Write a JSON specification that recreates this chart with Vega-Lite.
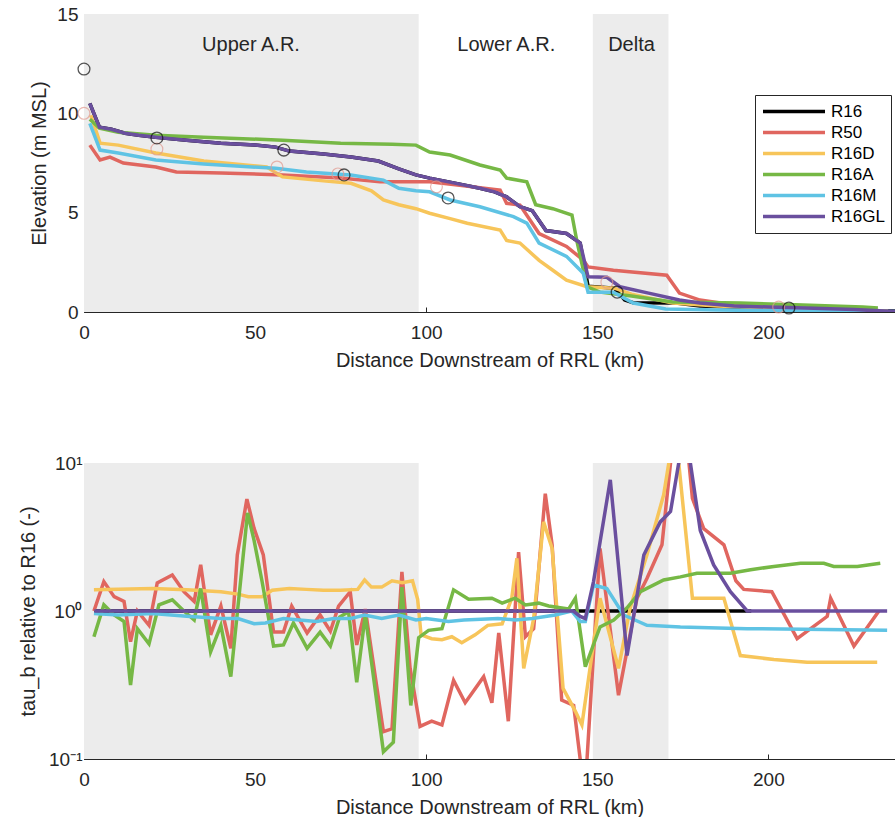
{
  "$schema": "https://vega.github.io/schema/vega-lite/v6.json",
  "background": "white",
  "padding": {"left": 18, "top": 5, "right": 0, "bottom": 0},
  "config": {
    "view": {"stroke": null},
    "font": "Liberation Sans",
    "axis": {
      "labelFont": "Liberation Sans", "labelFontSize": 19, "labelColor": "#262626",
      "titleFont": "Liberation Sans", "titleFontSize": 20, "titleFontWeight": "normal", "titleColor": "#262626",
      "domainColor": "#262626", "tickColor": "#262626", "grid": false,
      "labelFlush": false, "labelOverlap": false, "tickSize": -5
    }
  },
  "datasets": {
    "regions": [{"x1": 0, "x2": 97.8}, {"x1": 148.7, "x2": 170.8}],
    "labels": [
      {"t": "Upper A.R.", "km": 48.8, "v": 13.44},
      {"t": "Lower A.R.", "km": 123.4, "v": 13.44},
      {"t": "Delta", "km": 160, "v": 13.44}
    ],
    "obs": [
      {"k": "b", "km": 0, "v": 10.0}, {"k": "b", "km": 21.3, "v": 8.2}, {"k": "b", "km": 56.4, "v": 7.3},
      {"k": "b", "km": 74.2, "v": 6.95}, {"k": "b", "km": 103, "v": 6.3}, {"k": "b", "km": 152.8, "v": 1.5},
      {"k": "b", "km": 203, "v": 0.25},
      {"k": "a", "km": 0, "v": 12.23}, {"k": "a", "km": 21.3, "v": 8.76}, {"k": "a", "km": 58.4, "v": 8.15},
      {"k": "a", "km": 76, "v": 6.9}, {"k": "a", "km": 106.4, "v": 5.74}, {"k": "a", "km": 155.8, "v": 1.0},
      {"k": "a", "km": 206, "v": 0.2}
    ],
    "elev": [
      {"s":"R16","km":1.7,"v":10.5},{"s":"R16","km":4.5,"v":9.3},{"s":"R16","km":8,"v":9.2},{"s":"R16","km":12,"v":9.0},{"s":"R16","km":16,"v":8.9},{"s":"R16","km":21,"v":8.8},{"s":"R16","km":30,"v":8.65},{"s":"R16","km":40,"v":8.5},{"s":"R16","km":50,"v":8.4},{"s":"R16","km":56,"v":8.3},{"s":"R16","km":60,"v":8.1},{"s":"R16","km":70,"v":7.95},{"s":"R16","km":78,"v":7.8},{"s":"R16","km":86,"v":7.6},{"s":"R16","km":92,"v":7.2},{"s":"R16","km":97,"v":6.9},{"s":"R16","km":101,"v":6.74},{"s":"R16","km":108,"v":6.5},{"s":"R16","km":115.7,"v":6.23},{"s":"R16","km":120,"v":6.05},{"s":"R16","km":123.5,"v":5.8},{"s":"R16","km":127.4,"v":5.3},{"s":"R16","km":131,"v":5.1},{"s":"R16","km":135,"v":4.1},{"s":"R16","km":141,"v":3.95},{"s":"R16","km":145,"v":3.47},{"s":"R16","km":147.3,"v":1.3},{"s":"R16","km":155,"v":1.2},{"s":"R16","km":158,"v":0.6},{"s":"R16","km":160.5,"v":0.47},{"s":"R16","km":173,"v":0.45},{"s":"R16","km":180,"v":0.3},{"s":"R16","km":200,"v":0.2},{"s":"R16","km":220,"v":0.1},{"s":"R16","km":237,"v":0.05},

      {"s":"R50","km":1.7,"v":8.4},{"s":"R50","km":4.7,"v":7.65},{"s":"R50","km":7.6,"v":7.8},{"s":"R50","km":11.5,"v":7.5},{"s":"R50","km":21,"v":7.3},{"s":"R50","km":27,"v":7.05},{"s":"R50","km":40,"v":7.0},{"s":"R50","km":58,"v":6.9},{"s":"R50","km":75,"v":6.75},{"s":"R50","km":86.5,"v":6.55},{"s":"R50","km":101,"v":6.55},{"s":"R50","km":121.6,"v":6.14},{"s":"R50","km":123.5,"v":5.47},{"s":"R50","km":127.4,"v":5.38},{"s":"R50","km":133,"v":3.95},{"s":"R50","km":141,"v":3.3},{"s":"R50","km":146,"v":2.6},{"s":"R50","km":147.3,"v":2.27},{"s":"R50","km":154.7,"v":2.1},{"s":"R50","km":170.3,"v":1.85},{"s":"R50","km":174,"v":0.95},{"s":"R50","km":180,"v":0.6},{"s":"R50","km":190,"v":0.35},{"s":"R50","km":200,"v":0.25},{"s":"R50","km":215,"v":0.15},{"s":"R50","km":230,"v":0.1},

      {"s":"R16D","km":2,"v":9.9},{"s":"R16D","km":4.7,"v":8.5},{"s":"R16D","km":10,"v":8.4},{"s":"R16D","km":21,"v":8.0},{"s":"R16D","km":35,"v":7.6},{"s":"R16D","km":53.4,"v":7.3},{"s":"R16D","km":58,"v":6.8},{"s":"R16D","km":70,"v":6.6},{"s":"R16D","km":78,"v":6.48},{"s":"R16D","km":84,"v":6.1},{"s":"R16D","km":87.5,"v":5.64},{"s":"R16D","km":92,"v":5.4},{"s":"R16D","km":97,"v":5.2},{"s":"R16D","km":101,"v":4.97},{"s":"R16D","km":107,"v":4.7},{"s":"R16D","km":112,"v":4.47},{"s":"R16D","km":121.6,"v":4.13},{"s":"R16D","km":123.5,"v":3.6},{"s":"R16D","km":127.4,"v":3.47},{"s":"R16D","km":133,"v":2.6},{"s":"R16D","km":137,"v":2.1},{"s":"R16D","km":141,"v":1.6},{"s":"R16D","km":147,"v":1.27},{"s":"R16D","km":155,"v":1.2},{"s":"R16D","km":160,"v":0.9},{"s":"R16D","km":172,"v":0.45},{"s":"R16D","km":185,"v":0.3},{"s":"R16D","km":200,"v":0.2},{"s":"R16D","km":220,"v":0.1},{"s":"R16D","km":235,"v":0.05},

      {"s":"R16A","km":1.7,"v":9.7},{"s":"R16A","km":4.5,"v":9.25},{"s":"R16A","km":10,"v":9.05},{"s":"R16A","km":21,"v":8.9},{"s":"R16A","km":35,"v":8.8},{"s":"R16A","km":58,"v":8.65},{"s":"R16A","km":75,"v":8.5},{"s":"R16A","km":90,"v":8.45},{"s":"R16A","km":97,"v":8.4},{"s":"R16A","km":101,"v":8.05},{"s":"R16A","km":107,"v":7.9},{"s":"R16A","km":115.7,"v":7.4},{"s":"R16A","km":121.6,"v":7.15},{"s":"R16A","km":123.5,"v":6.74},{"s":"R16A","km":129.4,"v":6.55},{"s":"R16A","km":132,"v":5.4},{"s":"R16A","km":137,"v":5.2},{"s":"R16A","km":142.6,"v":4.88},{"s":"R16A","km":144,"v":3.6},{"s":"R16A","km":147,"v":1.27},{"s":"R16A","km":150.8,"v":1.0},{"s":"R16A","km":160,"v":0.8},{"s":"R16A","km":172,"v":0.5},{"s":"R16A","km":191.7,"v":0.45},{"s":"R16A","km":210,"v":0.35},{"s":"R16A","km":227.6,"v":0.25},{"s":"R16A","km":232,"v":0.2},

      {"s":"R16M","km":1.7,"v":9.5},{"s":"R16M","km":4.7,"v":8.15},{"s":"R16M","km":10,"v":8.0},{"s":"R16M","km":21,"v":7.65},{"s":"R16M","km":35,"v":7.45},{"s":"R16M","km":56,"v":7.23},{"s":"R16M","km":65,"v":7.05},{"s":"R16M","km":78,"v":6.9},{"s":"R16M","km":87.5,"v":6.64},{"s":"R16M","km":92,"v":6.23},{"s":"R16M","km":97,"v":6.1},{"s":"R16M","km":101,"v":6.05},{"s":"R16M","km":107,"v":5.64},{"s":"R16M","km":115.7,"v":5.3},{"s":"R16M","km":125.5,"v":4.8},{"s":"R16M","km":129.4,"v":4.47},{"s":"R16M","km":133,"v":3.47},{"s":"R16M","km":141,"v":2.8},{"s":"R16M","km":145.9,"v":1.95},{"s":"R16M","km":147.3,"v":1.0},{"s":"R16M","km":154.7,"v":1.0},{"s":"R16M","km":160.5,"v":0.45},{"s":"R16M","km":170,"v":0.15},{"s":"R16M","km":185,"v":0.1},{"s":"R16M","km":200,"v":0.07},{"s":"R16M","km":220,"v":0.04},{"s":"R16M","km":237,"v":0.02},

      {"s":"R16GL","km":1.7,"v":10.5},{"s":"R16GL","km":4.5,"v":9.3},{"s":"R16GL","km":8,"v":9.2},{"s":"R16GL","km":12,"v":9.0},{"s":"R16GL","km":16,"v":8.9},{"s":"R16GL","km":21,"v":8.8},{"s":"R16GL","km":30,"v":8.65},{"s":"R16GL","km":40,"v":8.5},{"s":"R16GL","km":50,"v":8.4},{"s":"R16GL","km":56,"v":8.3},{"s":"R16GL","km":60,"v":8.1},{"s":"R16GL","km":70,"v":7.95},{"s":"R16GL","km":78,"v":7.8},{"s":"R16GL","km":86,"v":7.6},{"s":"R16GL","km":92,"v":7.2},{"s":"R16GL","km":97,"v":6.9},{"s":"R16GL","km":101,"v":6.74},{"s":"R16GL","km":108,"v":6.5},{"s":"R16GL","km":115.7,"v":6.23},{"s":"R16GL","km":120,"v":6.05},{"s":"R16GL","km":123.5,"v":5.8},{"s":"R16GL","km":127.4,"v":5.3},{"s":"R16GL","km":131,"v":5.1},{"s":"R16GL","km":135,"v":4.1},{"s":"R16GL","km":141,"v":3.95},{"s":"R16GL","km":145,"v":3.47},{"s":"R16GL","km":147.3,"v":1.77},{"s":"R16GL","km":152.8,"v":1.75},{"s":"R16GL","km":156.6,"v":1.27},{"s":"R16GL","km":165,"v":0.95},{"s":"R16GL","km":174,"v":0.6},{"s":"R16GL","km":180,"v":0.45},{"s":"R16GL","km":190,"v":0.3},{"s":"R16GL","km":200,"v":0.25},{"s":"R16GL","km":211,"v":0.2},{"s":"R16GL","km":225,"v":0.12},{"s":"R16GL","km":237,"v":0.02}
    ],
    "tau": [
      {"s":"R16","km":3,"v":1},{"s":"R16","km":195,"v":1},

      {"s":"R50","km":2.9,"v":1.0},{"s":"R50","km":5.8,"v":1.58},{"s":"R50","km":8.8,"v":1.25},{"s":"R50","km":11.7,"v":1.16},{"s":"R50","km":13.6,"v":0.62},{"s":"R50","km":15.6,"v":1.0},{"s":"R50","km":19,"v":0.8},{"s":"R50","km":21.4,"v":1.55},{"s":"R50","km":25.8,"v":1.75},{"s":"R50","km":29.2,"v":1.35},{"s":"R50","km":32.2,"v":1.16},{"s":"R50","km":34.1,"v":2.05},{"s":"R50","km":37,"v":0.69},{"s":"R50","km":40,"v":1.08},{"s":"R50","km":42.9,"v":0.56},{"s":"R50","km":44.8,"v":2.39},{"s":"R50","km":47.6,"v":5.7},{"s":"R50","km":49.7,"v":3.62},{"s":"R50","km":52.4,"v":2.39},{"s":"R50","km":55.4,"v":0.72},{"s":"R50","km":58.3,"v":0.72},{"s":"R50","km":60.7,"v":1.08},{"s":"R50","km":65.2,"v":0.71},{"s":"R50","km":69,"v":0.94},{"s":"R50","km":72,"v":0.73},{"s":"R50","km":74.4,"v":1.08},{"s":"R50","km":77.8,"v":1.35},{"s":"R50","km":79.7,"v":0.59},{"s":"R50","km":82.2,"v":1.03},{"s":"R50","km":87.5,"v":0.153},{"s":"R50","km":90,"v":0.16},{"s":"R50","km":92.9,"v":1.84},{"s":"R50","km":95.3,"v":0.41},{"s":"R50","km":98.2,"v":0.166},{"s":"R50","km":101.6,"v":0.18},{"s":"R50","km":104.6,"v":0.17},{"s":"R50","km":108,"v":0.34},{"s":"R50","km":111.4,"v":0.24},{"s":"R50","km":116.8,"v":0.36},{"s":"R50","km":119.2,"v":0.24},{"s":"R50","km":121.2,"v":0.71},{"s":"R50","km":124,"v":0.18},{"s":"R50","km":127,"v":2.5},{"s":"R50","km":129,"v":0.67},{"s":"R50","km":131.4,"v":0.76},{"s":"R50","km":134.8,"v":6.2},{"s":"R50","km":136.8,"v":2.8},{"s":"R50","km":139.6,"v":0.25},{"s":"R50","km":143.1,"v":0.23},{"s":"R50","km":145,"v":0.1},{"s":"R50","km":145.8,"v":0.07},{"s":"R50","km":147,"v":0.1},{"s":"R50","km":150.8,"v":2.65},{"s":"R50","km":156.2,"v":0.27},{"s":"R50","km":161.6,"v":1.22},{"s":"R50","km":164.5,"v":1.66},{"s":"R50","km":168.9,"v":2.8},{"s":"R50","km":171.4,"v":10},{"s":"R50","km":174,"v":30},{"s":"R50","km":176.8,"v":10},{"s":"R50","km":177.8,"v":5.77},{"s":"R50","km":181.1,"v":3.6},{"s":"R50","km":187,"v":2.8},{"s":"R50","km":190.5,"v":1.6},{"s":"R50","km":192.8,"v":1.4},{"s":"R50","km":201,"v":1.35},{"s":"R50","km":208.4,"v":0.65},{"s":"R50","km":217.2,"v":0.92},{"s":"R50","km":218.2,"v":1.22},{"s":"R50","km":225,"v":0.58},{"s":"R50","km":232.3,"v":1.0},

      {"s":"R16D","km":2.9,"v":1.39},{"s":"R16D","km":10,"v":1.4},{"s":"R16D","km":20,"v":1.42},{"s":"R16D","km":30,"v":1.39},{"s":"R16D","km":40,"v":1.35},{"s":"R16D","km":45,"v":1.3},{"s":"R16D","km":48,"v":1.25},{"s":"R16D","km":52,"v":1.25},{"s":"R16D","km":55,"v":1.38},{"s":"R16D","km":60,"v":1.42},{"s":"R16D","km":65,"v":1.4},{"s":"R16D","km":70,"v":1.38},{"s":"R16D","km":75,"v":1.38},{"s":"R16D","km":80,"v":1.4},{"s":"R16D","km":82,"v":1.62},{"s":"R16D","km":84,"v":1.45},{"s":"R16D","km":87,"v":1.45},{"s":"R16D","km":90,"v":1.6},{"s":"R16D","km":93,"v":1.55},{"s":"R16D","km":96,"v":1.6},{"s":"R16D","km":97.5,"v":1.2},{"s":"R16D","km":98.5,"v":0.69},{"s":"R16D","km":101.6,"v":0.65},{"s":"R16D","km":104.6,"v":0.64},{"s":"R16D","km":107.5,"v":0.67},{"s":"R16D","km":110.4,"v":0.61},{"s":"R16D","km":114.3,"v":0.69},{"s":"R16D","km":118,"v":0.8},{"s":"R16D","km":122.2,"v":0.82},{"s":"R16D","km":125,"v":1.22},{"s":"R16D","km":126.5,"v":2.27},{"s":"R16D","km":128.5,"v":0.41},{"s":"R16D","km":131.4,"v":0.89},{"s":"R16D","km":134.3,"v":4.0},{"s":"R16D","km":136.8,"v":2.65},{"s":"R16D","km":140,"v":0.3},{"s":"R16D","km":143.6,"v":0.21},{"s":"R16D","km":145.5,"v":0.17},{"s":"R16D","km":150.8,"v":1.22},{"s":"R16D","km":156.2,"v":0.41},{"s":"R16D","km":159.6,"v":1.05},{"s":"R16D","km":164.5,"v":2.39},{"s":"R16D","km":169.4,"v":6.1},{"s":"R16D","km":170.9,"v":10},{"s":"R16D","km":172.3,"v":15},{"s":"R16D","km":173.8,"v":10},{"s":"R16D","km":177.8,"v":1.22},{"s":"R16D","km":187,"v":1.22},{"s":"R16D","km":191.8,"v":0.5},{"s":"R16D","km":201.6,"v":0.47},{"s":"R16D","km":211.3,"v":0.45},{"s":"R16D","km":231.8,"v":0.45},

      {"s":"R16A","km":2.9,"v":0.67},{"s":"R16A","km":5.8,"v":1.1},{"s":"R16A","km":8.8,"v":0.94},{"s":"R16A","km":11.7,"v":0.85},{"s":"R16A","km":13.6,"v":0.316},{"s":"R16A","km":15.6,"v":0.76},{"s":"R16A","km":19,"v":0.6},{"s":"R16A","km":21.9,"v":1.1},{"s":"R16A","km":25.8,"v":1.19},{"s":"R16A","km":29.2,"v":1.0},{"s":"R16A","km":32.2,"v":0.87},{"s":"R16A","km":34.1,"v":1.42},{"s":"R16A","km":37,"v":0.53},{"s":"R16A","km":40,"v":0.8},{"s":"R16A","km":42.9,"v":0.36},{"s":"R16A","km":47.8,"v":4.6},{"s":"R16A","km":49.7,"v":3.0},{"s":"R16A","km":52,"v":1.6},{"s":"R16A","km":55.4,"v":0.58},{"s":"R16A","km":58.3,"v":0.59},{"s":"R16A","km":61.2,"v":0.83},{"s":"R16A","km":65.2,"v":0.56},{"s":"R16A","km":69,"v":0.72},{"s":"R16A","km":72,"v":0.58},{"s":"R16A","km":74.7,"v":0.91},{"s":"R16A","km":77.3,"v":0.99},{"s":"R16A","km":79.7,"v":0.33},{"s":"R16A","km":82.2,"v":0.94},{"s":"R16A","km":87.5,"v":0.112},{"s":"R16A","km":90.4,"v":0.13},{"s":"R16A","km":92.9,"v":1.45},{"s":"R16A","km":95.5,"v":0.23},{"s":"R16A","km":97.8,"v":0.66},{"s":"R16A","km":100.7,"v":0.74},{"s":"R16A","km":104.6,"v":0.76},{"s":"R16A","km":108,"v":1.39},{"s":"R16A","km":112.4,"v":1.2},{"s":"R16A","km":119.2,"v":1.22},{"s":"R16A","km":122.2,"v":1.13},{"s":"R16A","km":126,"v":1.22},{"s":"R16A","km":129,"v":1.1},{"s":"R16A","km":132.9,"v":1.13},{"s":"R16A","km":135.8,"v":1.08},{"s":"R16A","km":141.6,"v":1.03},{"s":"R16A","km":143.6,"v":1.22},{"s":"R16A","km":146.5,"v":0.42},{"s":"R16A","km":150.8,"v":0.78},{"s":"R16A","km":154.8,"v":0.87},{"s":"R16A","km":158.7,"v":1.05},{"s":"R16A","km":162.6,"v":1.35},{"s":"R16A","km":169.4,"v":1.62},{"s":"R16A","km":174.3,"v":1.7},{"s":"R16A","km":179.1,"v":1.8},{"s":"R16A","km":188.9,"v":1.8},{"s":"R16A","km":194.8,"v":1.9},{"s":"R16A","km":201.6,"v":2.0},{"s":"R16A","km":209.4,"v":2.1},{"s":"R16A","km":216.2,"v":2.1},{"s":"R16A","km":219.1,"v":2.0},{"s":"R16A","km":226,"v":2.0},{"s":"R16A","km":232.7,"v":2.1},

      {"s":"R16M","km":2.9,"v":0.96},{"s":"R16M","km":10,"v":0.94},{"s":"R16M","km":20,"v":0.96},{"s":"R16M","km":30,"v":0.92},{"s":"R16M","km":40,"v":0.89},{"s":"R16M","km":45,"v":0.89},{"s":"R16M","km":49.7,"v":0.82},{"s":"R16M","km":53,"v":0.83},{"s":"R16M","km":58.3,"v":0.89},{"s":"R16M","km":63,"v":0.87},{"s":"R16M","km":68,"v":0.85},{"s":"R16M","km":73,"v":0.89},{"s":"R16M","km":78,"v":0.89},{"s":"R16M","km":82,"v":0.94},{"s":"R16M","km":87,"v":0.89},{"s":"R16M","km":92,"v":0.94},{"s":"R16M","km":97,"v":0.87},{"s":"R16M","km":100,"v":0.89},{"s":"R16M","km":106.5,"v":0.85},{"s":"R16M","km":111,"v":0.87},{"s":"R16M","km":121,"v":0.89},{"s":"R16M","km":126,"v":0.87},{"s":"R16M","km":131,"v":0.89},{"s":"R16M","km":137.7,"v":0.94},{"s":"R16M","km":142.5,"v":1.0},{"s":"R16M","km":145,"v":0.85},{"s":"R16M","km":146.5,"v":0.85},{"s":"R16M","km":148.9,"v":1.5},{"s":"R16M","km":152.8,"v":1.42},{"s":"R16M","km":157.7,"v":0.94},{"s":"R16M","km":164.5,"v":0.8},{"s":"R16M","km":174.3,"v":0.78},{"s":"R16M","km":193.8,"v":0.76},{"s":"R16M","km":234.7,"v":0.74},

      {"s":"R16GL","km":3,"v":1},{"s":"R16GL","km":143,"v":1},{"s":"R16GL","km":145,"v":0.92},{"s":"R16GL","km":146.5,"v":0.89},{"s":"R16GL","km":148.9,"v":1.58},{"s":"R16GL","km":153.8,"v":7.7},{"s":"R16GL","km":158.7,"v":0.5},{"s":"R16GL","km":163.6,"v":2.39},{"s":"R16GL","km":168.4,"v":4.0},{"s":"R16GL","km":171.4,"v":4.7},{"s":"R16GL","km":173.8,"v":10},{"s":"R16GL","km":175.6,"v":17},{"s":"R16GL","km":177.2,"v":10},{"s":"R16GL","km":180.1,"v":3.5},{"s":"R16GL","km":184,"v":2.05},{"s":"R16GL","km":188.9,"v":1.35},{"s":"R16GL","km":193.8,"v":1.0},{"s":"R16GL","km":234.7,"v":1.0}
    ]
  },
  "bounds": "flush",
  "spacing": 151,
  "resolve": {"scale": {"x": "independent", "y": "independent"}, "legend": {"color": "independent"}},
  "vconcat": [
    {
      "width": 811,
      "height": 298,
      "layer": [
        {
          "data": {"name": "regions"},
          "mark": {"type": "rect", "color": "#ececec"},
          "encoding": {
            "x": {"field": "x1", "type": "quantitative", "scale": {"domain": [0, 237], "nice": false},
                  "axis": {"values": [0, 50, 100, 150, 200], "title": "Distance Downstream of RRL (km)", "labelPadding": 16, "titlePadding": 8}},
            "x2": {"field": "x2"},
            "y": {"datum": 0, "type": "quantitative", "scale": {"domain": [0, 15], "nice": false},
                  "axis": {"values": [0, 5, 10, 15], "title": "Elevation (m MSL)", "labelPadding": 11, "titlePadding": 7}},
            "y2": {"datum": 15}
          }
        },
        {
          "data": {"name": "labels"},
          "mark": {"type": "text", "fontSize": 20, "font": "Liberation Sans", "color": "#262626"},
          "encoding": {
            "x": {"field": "km", "type": "quantitative"},
            "y": {"field": "v", "type": "quantitative"},
            "text": {"field": "t"}
          }
        },
        {
          "data": {"name": "elev"},
          "mark": {"type": "line", "strokeWidth": 3.5, "clip": true},
          "encoding": {
            "x": {"field": "km", "type": "quantitative"},
            "y": {"field": "v", "type": "quantitative"},
            "color": {"field": "s", "type": "nominal",
              "scale": {"domain": ["R16", "R50", "R16D", "R16A", "R16M", "R16GL"], "range": ["#000000", "#e0665f", "#f7c55a", "#76b845", "#5fc3e4", "#6a4f9e"]},
              "legend": {"orient": "none", "legendX": 671, "legendY": 81, "title": null, "symbolType": "stroke", "symbolSize": 3844, "symbolStrokeWidth": 3.5, "clipHeight": 21, "rowPadding": 0, "padding": 6, "labelOffset": 4, "labelFont": "Liberation Sans", "labelFontSize": 17, "labelColor": "#000000", "strokeColor": "#262626", "fillColor": "#ffffff"}}
          }
        },
        {
          "data": {"name": "obs"},
          "transform": [{"filter": "datum.k == 'b'"}],
          "mark": {"type": "point", "shape": "circle", "filled": false, "size": 140, "strokeWidth": 1.2, "color": "#e29a90"},
          "encoding": {
            "x": {"field": "km", "type": "quantitative"},
            "y": {"field": "v", "type": "quantitative"}
          }
        },
        {
          "data": {"name": "obs"},
          "transform": [{"filter": "datum.k == 'a'"}],
          "mark": {"type": "point", "shape": "circle", "filled": false, "size": 140, "strokeWidth": 1.3, "color": "#111111"},
          "encoding": {
            "x": {"field": "km", "type": "quantitative"},
            "y": {"field": "v", "type": "quantitative"}
          }
        }
      ]
    },
    {
      "width": 811,
      "height": 296,
      "layer": [
        {
          "data": {"name": "regions"},
          "mark": {"type": "rect", "color": "#ececec"},
          "encoding": {
            "x": {"field": "x1", "type": "quantitative", "scale": {"domain": [0, 237], "nice": false},
                  "axis": {"values": [0, 50, 100, 150, 200], "title": "Distance Downstream of RRL (km)", "labelPadding": 16, "titlePadding": 8}},
            "x2": {"field": "x2"},
            "y": {"datum": 0.1, "type": "quantitative", "scale": {"type": "log", "domain": [0.1, 10], "nice": false},
                  "axis": {"values": [0.1, 0.2, 0.3, 0.4, 0.5, 0.6, 0.7, 0.8, 0.9, 1, 2, 3, 4, 5, 6, 7, 8, 9, 10],
                           "labelExpr": "datum.value > 9 ? '10¹' : (abs(datum.value - 1) < 0.01 ? '10⁰' : (datum.value < 0.11 ? '10⁻¹' : ''))",
                           "title": "tau_b relative to R16 (-)", "labelPadding": 7, "titlePadding": 10}},
            "y2": {"datum": 10}
          }
        },
        {
          "data": {"name": "tau"},
          "mark": {"type": "line", "strokeWidth": 3.5, "clip": true},
          "encoding": {
            "x": {"field": "km", "type": "quantitative"},
            "y": {"field": "v", "type": "quantitative"},
            "color": {"field": "s", "type": "nominal",
              "scale": {"domain": ["R16", "R50", "R16D", "R16A", "R16M", "R16GL"], "range": ["#000000", "#e0665f", "#f7c55a", "#76b845", "#5fc3e4", "#6a4f9e"]},
              "legend": null}
          }
        }
      ]
    }
  ]
}
